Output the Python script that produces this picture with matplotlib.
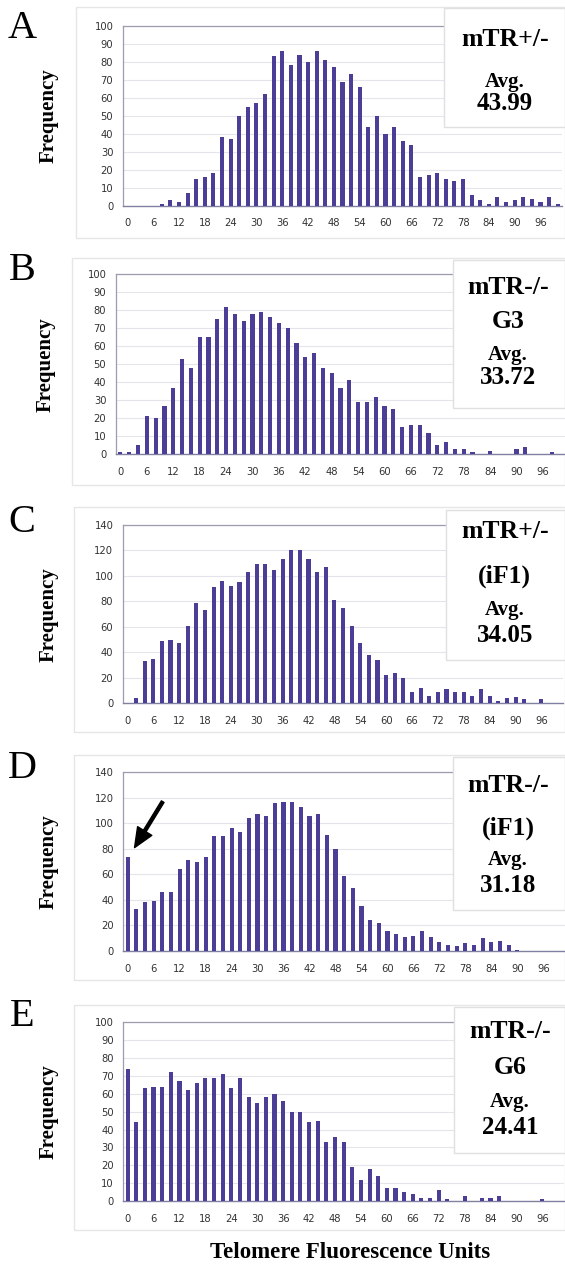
import matplotlib
matplotlib.use("Agg")
import matplotlib.pyplot as plt
from matplotlib.patches import Rectangle
import numpy as np

W, H = 565, 1267

# ---------------- data ----------------
bins = list(range(0, 101, 2))
xtick_labels = [str(v) for v in range(0, 97, 6)]

freq_A = [0, 0, 0, 0, 1, 3, 2, 7, 15, 16, 18, 38, 37, 50, 55, 57, 62, 83, 86, 78,
          84, 80, 86, 81, 77, 69, 73, 66, 44, 50, 40, 44, 36, 34, 16, 17, 18, 15, 14, 15,
          6, 3, 1, 5, 2, 3, 5, 4, 2, 5, 1]
freq_B = [1, 1, 5, 21, 20, 27, 37, 53, 48, 65, 65, 75, 82, 78, 74, 78, 79, 76, 73, 70,
          62, 54, 56, 48, 45, 37, 41, 29, 29, 32, 27, 25, 15, 16, 16, 12, 5, 7, 3, 3,
          1, 0, 2, 0, 0, 3, 4, 0, 0, 1, 0]
freq_C = [0, 4, 33, 35, 49, 50, 47, 61, 79, 73, 91, 96, 92, 95, 103, 109, 109, 105, 113, 120,
          120, 113, 103, 107, 81, 75, 61, 47, 38, 34, 22, 24, 20, 9, 12, 6, 9, 11, 9, 9,
          6, 11, 6, 2, 4, 5, 3, 0, 3, 0, 0]
freq_D = [74, 33, 38, 39, 46, 46, 64, 71, 70, 74, 90, 90, 96, 93, 104, 107, 106, 116, 117, 117,
          113, 106, 107, 91, 80, 59, 49, 35, 24, 22, 16, 13, 11, 12, 16, 11, 7, 5, 4, 6,
          5, 10, 7, 8, 5, 1, 0, 0, 0, 0, 0]
freq_E = [74, 44, 63, 64, 64, 72, 67, 62, 66, 69, 69, 71, 63, 69, 58, 55, 58, 60, 56, 50,
          50, 44, 45, 33, 36, 33, 19, 12, 18, 14, 7, 7, 5, 4, 1.5, 1.5, 6, 1, 0, 3,
          0, 1.5, 1.5, 3, 0, 0, 0, 0, 1, 0, 0]

letters = ["A", "B", "C", "D", "E"]
labels = [["mTR+/-", "Avg.", "43.99"],
          ["mTR-/-", "G3", "Avg.", "33.72"],
          ["mTR+/-", "(iF1)", "Avg.", "34.05"],
          ["mTR-/-", "(iF1)", "Avg.", "31.18"],
          ["mTR-/-", "G6", "Avg.", "24.41"]]
series = [freq_A, freq_B, freq_C, freq_D, freq_E]
ymaxs = [100, 100, 140, 140, 100]
ysteps = [10, 10, 20, 20, 10]

# ---------------- layout (pixels) ----------------
plot_boxes = [(123, 562, 25.7, 205.7),
              (116, 565, 274.3, 454.3),
              (123, 563, 525, 703.3),
              (123.3, 565, 772.3, 951),
              (123.3, 564, 1022.3, 1201)]
chart_boxes = [(76, 7, 565, 238), (72, 258, 565, 485), (74, 507, 565, 732),
               (74, 755, 565, 980), (74, 1005, 565, 1230)]
letter_pos = [(22, 28), (22, 270), (22, 522), (22, 768), (22, 1017)]
freq_x = [49, 46, 49, 49, 49]
text_boxes = [(444, 8, 565, 127), (453, 260, 565, 408), (446, 510, 565, 660),
              (453, 757, 565, 910), (454, 1007, 565, 1153)]
text_rows = [[(505, 40, 18.5), (505, 82, 15), (505, 104, 18)],
             [(508, 287, 18.5), (508, 322, 18.5), (508, 355, 15), (508, 378, 18)],
             [(505, 532, 18.5), (504, 576, 18.5), (505, 610, 15), (505, 635, 18)],
             [(508, 785, 18.5), (508, 828, 18.5), (508, 860, 15), (508, 885, 18)],
             [(510, 1032, 18.5), (510, 1067, 18.5), (510, 1102, 15), (510, 1128, 18)]]

bar_color = "#4a3e96"
grid_color = "#e4e4ea"
spine_color = "#9c9cb0"
serif = ["Liberation Serif", "DejaVu Serif"]

fig = plt.figure(figsize=(W / 100, H / 100), dpi=100)
fig.patch.set_facecolor("white")


def fx(px):
    return px / W


def fy(py):
    return 1 - py / H


for i in range(5):
    # chart area frame
    cx0, cy0, cx1, cy1 = chart_boxes[i]
    fig.add_artist(Rectangle((fx(cx0), fy(cy1)), fx(cx1) - fx(cx0), fy(cy0) - fy(cy1),
                             transform=fig.transFigure, facecolor="none",
                             edgecolor="#e6e6e6", lw=1.0, zorder=0))

    l, r, t, b = plot_boxes[i]
    ax = fig.add_axes([fx(l), fy(b), (r - l) / W, (b - t) / H])
    ax.bar(bins, series[i], width=0.95, color=bar_color, zorder=3)
    ax.set_xlim(-1, 101)
    ax.set_ylim(0, ymaxs[i])
    yt = np.arange(0, ymaxs[i] + 1, ysteps[i])
    ax.set_yticks(yt)
    ax.set_yticklabels([str(v) for v in yt], fontsize=7.2, family="DejaVu Sans",
                       color="#333333")
    ax.set_xticks(list(range(0, 97, 6)))
    ax.set_xticklabels(xtick_labels, fontsize=7.2, family="DejaVu Sans", color="#333333")
    ax.tick_params(axis="both", length=0)
    ax.tick_params(axis="y", pad=7)
    ax.tick_params(axis="x", pad=9)
    ax.grid(axis="y", color=grid_color, lw=0.8, zorder=0)
    ax.set_axisbelow(True)
    for s in ["top", "left"]:
        ax.spines[s].set_color(spine_color)
        ax.spines[s].set_linewidth(0.9)
    ax.spines["bottom"].set_color("#8080a0")
    ax.spines["bottom"].set_linewidth(1.0)
    ax.spines["right"].set_visible(False)

    # panel letter
    lx, ly = letter_pos[i]
    fig.text(fx(lx), fy(ly), letters[i], family=serif, fontsize=29,
             ha="center", va="center")
    # y label
    fig.text(fx(freq_x[i]), fy((t + b) / 2), "Frequency", family=serif, fontsize=15,
             fontweight="bold", rotation=90, ha="center", va="center")

    # text box
    bx0, by0, bx1, by1 = text_boxes[i]
    fig.add_artist(Rectangle((fx(bx0), fy(by1)), fx(bx1) - fx(bx0), fy(by0) - fy(by1),
                             transform=fig.transFigure, facecolor="white",
                             edgecolor="#e0e0e0", lw=1.0, zorder=5))
    for txt, (tx, ty, fs) in zip(labels[i], text_rows[i]):
        fig.text(fx(tx), fy(ty), txt, family=serif, fontsize=fs, fontweight="bold",
                 ha="center", va="center", zorder=6)

    if i == 3:
        ax.annotate("", xy=(1.6, 81), xytext=(8.1, 117),
                    arrowprops=dict(facecolor="black", edgecolor="black", width=2.2,
                                    headwidth=12, headlength=14, shrink=0),
                    zorder=7, annotation_clip=False)

fig.text(fx(350), fy(1253), "Telomere Fluorescence Units", family=serif, fontsize=16.5,
         fontweight="bold", ha="center", va="center")

fig.savefig("out.png", dpi=100, facecolor="white")
